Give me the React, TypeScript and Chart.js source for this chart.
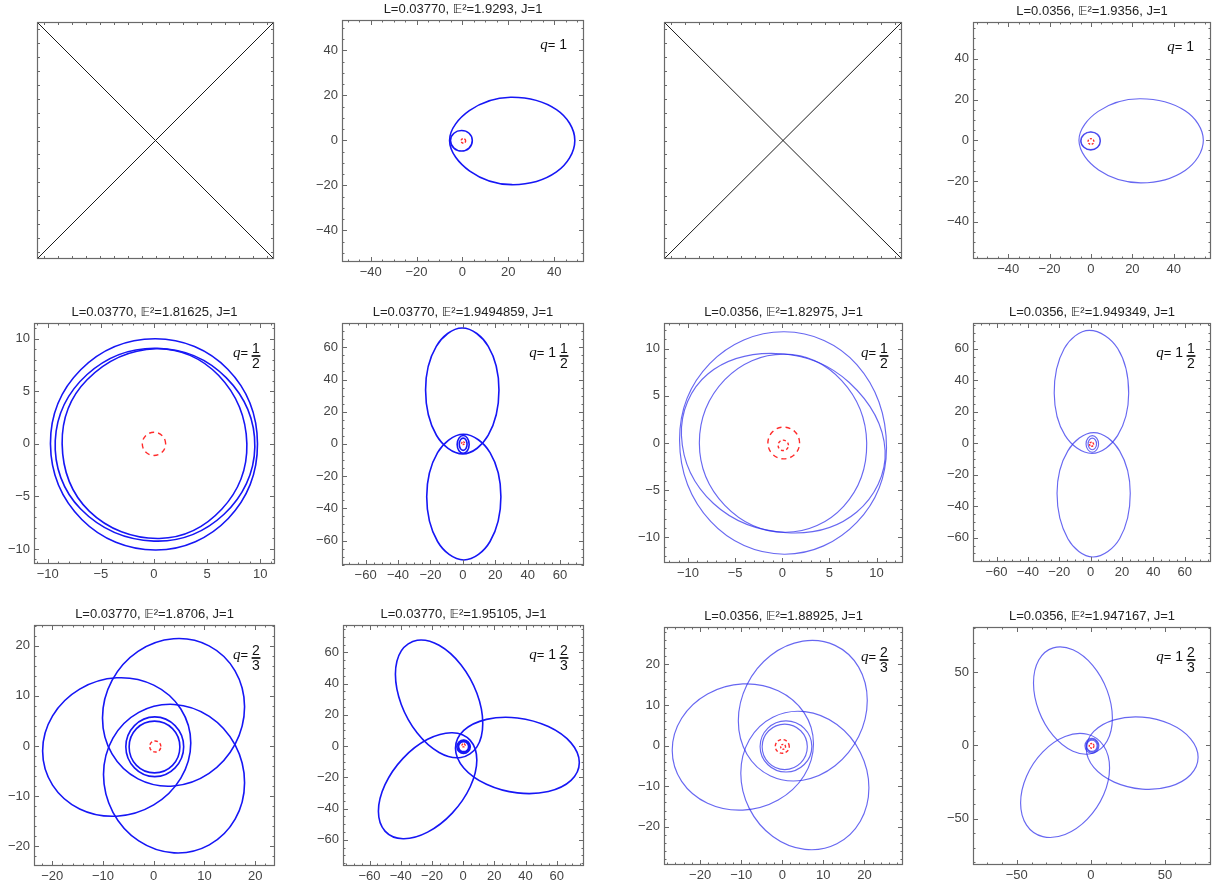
import React, { useEffect, useRef } from 'react';
import { Chart, registerables } from 'chart.js';
Chart.register(...registerables);

type Pt = [number, number];

// ---------------- titles / labels ----------------
const TITLE_2 = 'L=0.03770, 𝔼²=1.9293, J=1';
const TITLE_4 = 'L=0.0356, 𝔼²=1.9356, J=1';
const TITLE_5 = 'L=0.03770, 𝔼²=1.81625, J=1';
const TITLE_6 = 'L=0.03770, 𝔼²=1.9494859, J=1';
const TITLE_7 = 'L=0.0356, 𝔼²=1.82975, J=1';
const TITLE_8 = 'L=0.0356, 𝔼²=1.949349, J=1';
const TITLE_9 = 'L=0.03770, 𝔼²=1.8706, J=1';
const TITLE_10 = 'L=0.03770, 𝔼²=1.95105, J=1';
const TITLE_11 = 'L=0.0356, 𝔼²=1.88925, J=1';
const TITLE_12 = 'L=0.0356, 𝔼²=1.947167, J=1';

type Q = { whole?: string; num?: string; den?: string };
const Q_ONE: Q = { whole: '1' };
const Q_HALF: Q = { num: '1', den: '2' };
const Q_ONE_HALF: Q = { whole: '1', num: '1', den: '2' };
const Q_TWO_THIRDS: Q = { num: '2', den: '3' };
const Q_ONE_TWO_THIRDS: Q = { whole: '1', num: '2', den: '3' };

// ---------------- tick labels ----------------
const TICKS_40 = [-40, -20, 0, 20, 40];
const TICKS_10 = [-10, -5, 0, 5, 10];
const TICKS_60 = [-60, -40, -20, 0, 20, 40, 60];
const TICKS_20 = [-20, -10, 0, 10, 20];
const TICKS_50 = [-50, 0, 50];

// ---------------- placeholder crosses ----------------
const CROSS_A: Pt[] = [[0, 0], [1, 1]];
const CROSS_B: Pt[] = [[0, 1], [1, 0]];

// ---------------- panel 2 (q=1, L=0.03770) ----------------
const O2_BIG: Pt[] = [[49, 0], [41, 13.7], [21, 19.2], [3, 13.2], [-5.6, 0], [3.2, -13.6], [21.5, -19.65], [41, -14]];
const O2_SMALL: Pt[] = [[4.3, 0], [2.9, 3.2], [-0.4, 4.4], [-3.7, 3.2], [-5.2, 0], [-3.7, -3.4], [-0.4, -4.7], [2.9, -3.4]];
const H2: Pt[] = [[1.4, -0.2], [1.1, 0.5], [0.4, 0.8], [-0.3, 0.5], [-0.6, -0.2], [-0.3, -0.9], [0.4, -1.2], [1.1, -0.9]];

// ---------------- panel 4 (q=1, L=0.0356) ----------------
const O4_BIG: Pt[] = [[54.3, 0], [45.5, 14.5], [23.5, 20.4], [3.5, 14.2], [-5.8, 0], [3.7, -14.6], [24, -20.9], [45.5, -14.8]];
const O4_SMALL: Pt[] = [[4.6, -0.3], [3.2, 3], [-0.1, 4.2], [-3.4, 3], [-5, -0.3], [-3.4, -3.5], [-0.1, -4.8], [3.2, -3.5]];
const O4_SMALL2: Pt[] = [[4.4, -0.3], [3.1, 2.8], [-0.1, 4.0], [-3.3, 2.8], [-4.8, -0.3], [-3.3, -3.4], [-0.1, -4.6], [3.1, -3.4]];
const H4: Pt[] = [[1.4, -0.6], [1, 0.4], [0, 0.8], [-1, 0.4], [-1.4, -0.6], [-1, -1.6], [0, -2], [1, -1.6]];

// ---------------- panel 5 (q=1/2, L=0.03770) ----------------
const O5_A: Pt[] = [[9.75, 0], [6.95, 7.1], [0.1, 10.0], [-6.9, 7.05], [-9.75, 0], [-6.8, -7.2], [0.2, -10.1], [7.0, -7.1]];
const O5_B: Pt[] = [[9.5, -0.3], [6.8, 6.3], [0.3, 9.1], [-6.3, 6.6], [-9.3, 0.3], [-6.9, -6.2], [0, -9.25], [6.6, -6.7]];
const O5_C: Pt[] = [[8.75, 0], [6.1, 6.5], [0.2, 9.05], [-6.3, 6.1], [-8.65, 0], [-6.1, -6.4], [0.5, -9.0], [6.4, -6.2]];
const H5: Pt[] = [[1.1, 0], [0.78, 0.78], [0, 1.1], [-0.78, 0.78], [-1.1, 0], [-0.78, -0.78], [0, -1.1], [0.78, -0.78]];

// ---------------- panel 6 (q=1 1/2, L=0.03770) ----------------
const O6_UP: Pt[] = [[-0.4, 72], [15.7, 60.6], [22.3, 33.5], [15.7, 5.4], [0, -6.2], [-16.3, 5.4], [-23, 33.5], [-16.4, 60.6]];
const O6_LOW: Pt[] = [[0.4, 6], [16.8, -5.4], [23.5, -32.8], [16.8, -60.6], [0.6, -72.1], [-15.6, -60.6], [-22.3, -32.8], [-15.6, -5.4]];
const O6_S1: Pt[] = [[3.9, -0.3], [2.8, 3.6], [0.2, 5.2], [-2.4, 3.6], [-3.5, -0.3], [-2.4, -4.2], [0.2, -5.8], [2.8, -4.2]];
const O6_S2: Pt[] = [[2.6, -0.2], [1.9, 2.5], [0.2, 3.6], [-1.5, 2.5], [-2.2, -0.2], [-1.5, -2.9], [0.2, -4.0], [1.9, -2.9]];
const H6: Pt[] = [[1.1, 0.5], [0.8, 1.1], [0.2, 1.4], [-0.4, 1.1], [-0.7, 0.5], [-0.4, -0.1], [0.2, -0.4], [0.8, -0.1]];

// ---------------- panel 7 (q=1/2, L=0.0356) ----------------
const O7_A: Pt[] = [[11.05, -0.5], [7.9, 8.3], [0.2, 11.77], [-7.7, 8.4], [-10.9, 0.3], [-7.6, -8.3], [0.2, -11.77], [7.9, -8.4]];
const O7_B: Pt[] = [[10.9, -0.8], [7.1, 6.4], [-0.2, 9.45], [-7.9, 7.3], [-10.7, 0.8], [-7.3, -6.4], [0.5, -9.5], [7.9, -7.3]];
const O7_C: Pt[] = [[8.95, 0], [6.3, 6.6], [0.2, 9.4], [-6.1, 6.7], [-8.8, 0], [-6.1, -6.6], [0.3, -9.45], [6.5, -6.7]];
const H7_OUT: Pt[] = [[1.83, 0], [1.34, 1.19], [0.15, 1.68], [-1.04, 1.19], [-1.53, 0], [-1.04, -1.19], [0.15, -1.68], [1.34, -1.19]];
const H7_IN: Pt[] = [[0.65, -0.25], [0.49, 0.14], [0.1, 0.3], [-0.29, 0.14], [-0.45, -0.25], [-0.29, -0.64], [0.1, -0.8], [0.49, -0.64]];

// ---------------- panel 8 (q=1 1/2, L=0.0356) ----------------
const O8_UP: Pt[] = [[-0.8, 71.7], [17.3, 60.2], [24.3, 31.8], [17.3, 5.0], [0.8, -6.4], [-16.3, 5.0], [-23.2, 31.8], [-16.8, 60.2]];
const O8_LOW: Pt[] = [[2, 6.8], [18.5, -4.8], [25.3, -31.8], [18.5, -60.6], [1.5, -72.2], [-14.5, -60.6], [-21.4, -31.8], [-14.5, -4.8]];
const O8_S1: Pt[] = [[5.1, -0.4], [3.9, 3.3], [1.1, 4.9], [-1.7, 3.3], [-2.9, -0.4], [-1.7, -4.1], [1.1, -5.7], [3.9, -4.1]];
const O8_S2: Pt[] = [[3.8, -0.4], [3, 2.2], [1.1, 3.3], [-0.8, 2.2], [-1.6, -0.4], [-0.8, -3], [1.1, -4.1], [3, -3]];
const H8: Pt[] = [[1.9, -0.6], [1.5, 0.3], [0.6, 0.7], [-0.3, 0.3], [-0.7, -0.6], [-0.3, -1.5], [0.6, -1.9], [1.5, -1.5]];

// ---------------- panel 9 (q=2/3, L=0.03770) ----------------
const O9_E1: Pt[] = [[7.3, 0.6], [5.34, 7.38], [0, 12.13], [-7.3, 13.58], [-14.6, 11.33], [-19.94, 6.0], [-21.9, -1.0], [-19.94, -7.78], [-14.6, -12.53], [-7.3, -13.98], [0, -11.73], [5.34, -6.4]];
const O9_E2: Pt[] = [[17.9, 7.8], [16.02, 14.98], [10.9, 19.95], [3.9, 21.36], [-3.1, 18.85], [-8.22, 13.08], [-10.1, 5.6], [-8.22, -1.58], [-3.1, -6.55], [3.9, -7.96], [10.9, -5.45], [16.02, 0.32]];
const O9_E3: Pt[] = [[17.9, -7.3], [16.04, 0.2], [10.95, 5.9], [4.0, 8.28], [-2.95, 6.7], [-8.04, 1.58], [-9.9, -5.7], [-8.04, -13.2], [-2.95, -18.9], [4.0, -21.28], [10.95, -19.7], [16.04, -14.58]];
const O9_C1: Pt[] = [[5.9, -0.15], [4.2, 4.05], [0.2, 5.8], [-3.8, 4.05], [-5.5, -0.15], [-3.8, -4.35], [0.2, -6.1], [4.2, -4.35]];
const O9_C2: Pt[] = [[5.15, -0.2], [3.7, 3.45], [0.15, 4.95], [-3.4, 3.45], [-4.85, -0.2], [-3.4, -3.85], [0.15, -5.35], [3.7, -3.85]];
const H9: Pt[] = [[1.4, -0.1], [1.08, 0.68], [0.3, 1.0], [-0.48, 0.68], [-0.8, -0.1], [-0.48, -0.88], [0.3, -1.2], [1.08, -0.88]];

// ---------------- panel 10 (q=1 2/3, L=0.03770) ----------------
const O10_TOP: Pt[] = [[12.6, 14.5], [8.85, 33.75], [-1.4, 52.05], [-15.4, 64.5], [-29.4, 67.75], [-39.65, 60.95], [-43.4, 45.9], [-39.65, 26.65], [-29.4, 8.35], [-15.4, -4.1], [-1.4, -7.35], [8.85, -0.55]];
const O10_RIGHT: Pt[] = [[74.5, -10.6], [69.2, 2.02], [54.65, 12.48], [34.8, 18], [14.95, 17.08], [0.42, 9.98], [-4.9, -1.4], [0.42, -14.02], [14.95, -24.48], [34.8, -30], [54.65, -29.08], [69.2, -21.98]];
const O10_BOTTOM: Pt[] = [[8.8, -9.0], [4.57, 3.65], [-6.98, 8.52], [-22.75, 4.3], [-38.53, -7.88], [-50.07, -24.75], [-54.3, -41.8], [-50.07, -54.45], [-38.53, -59.32], [-22.75, -55.1], [-6.98, -42.92], [4.57, -26.05]];
const O10_C1: Pt[] = [[4.6, -0.4], [3.3, 2.6], [0.3, 3.9], [-2.7, 2.6], [-4, -0.4], [-2.7, -3.4], [0.3, -4.7], [3.3, -3.4]];
const O10_C2: Pt[] = [[3.5, -0.4], [2.6, 1.9], [0.3, 2.8], [-2, 1.9], [-2.9, -0.4], [-2, -2.7], [0.3, -3.6], [2.6, -2.7]];
const O10_C3: Pt[] = [[4.1, -0.2], [3.0, 2.4], [0.5, 3.5], [-2.1, 2.4], [-3.2, -0.2], [-2.1, -2.9], [0.5, -4.0], [3.0, -2.9]];
const H10: Pt[] = [[1.3, 0.5], [1.0, 1.2], [0.3, 1.5], [-0.4, 1.2], [-0.7, 0.5], [-0.4, -0.2], [0.3, -0.5], [1.0, -0.2]];

// ---------------- panel 11 (q=2/3, L=0.0356) ----------------
const O11_E1: Pt[] = [[7.6, 0.45], [5.3, 8.11], [-1.0, 13.5], [-9.6, 15.18], [-18.2, 12.7], [-24.5, 6.73], [-26.8, -1.15], [-24.5, -8.81], [-18.2, -14.2], [-9.6, -15.88], [-1.0, -13.4], [5.3, -7.43]];
const O11_E2: Pt[] = [[20.7, 11.1], [18.6, 19.33], [12.85, 24.68], [5.0, 25.72], [-2.85, 22.18], [-8.6, 14.99], [-10.7, 6.1], [-8.6, -2.13], [-2.85, -7.48], [5.0, -8.52], [12.85, -4.98], [18.6, 2.21]];
const O11_E3: Pt[] = [[21.1, -10.4], [19.01, -1.68], [13.3, 5.18], [5.5, 8.35], [-2.3, 6.98], [-8.01, 1.44], [-10.1, -6.8], [-8.01, -15.52], [-2.3, -22.38], [5.5, -25.55], [13.3, -24.18], [19.01, -18.64]];
const O11_C1: Pt[] = [[7.2, -0.2], [5.35, 4.25], [0.9, 6.1], [-3.55, 4.25], [-5.4, -0.2], [-3.55, -4.65], [0.9, -6.5], [5.35, -4.65]];
const O11_C2: Pt[] = [[6.1, -0.3], [4.5, 3.65], [0.6, 5.3], [-3.3, 3.65], [-4.9, -0.3], [-3.3, -4.25], [0.6, -5.9], [4.5, -4.25]];
const H11_OUT: Pt[] = [[1.7, -0.2], [1.2, 1.0], [0, 1.5], [-1.2, 1.0], [-1.7, -0.2], [-1.2, -1.4], [0, -1.9], [1.2, -1.4]];
const H11_IN: Pt[] = [[0.8, -0.3], [0.62, 0.12], [0.2, 0.3], [-0.22, 0.12], [-0.4, -0.3], [-0.22, -0.72], [0.2, -0.9], [0.62, -0.72]];

// ---------------- panel 12 (q=1 2/3, L=0.0356) ----------------
const O12_TOP: Pt[] = [[14.5, 18.7], [10.94, 37.66], [1.2, 54.75], [-12.1, 65.4], [-25.4, 66.75], [-35.14, 58.44], [-38.7, 42.7], [-35.14, 23.74], [-25.4, 6.65], [-12.1, -4.0], [1.2, -5.35], [10.94, 2.96]];
const O12_RIGHT: Pt[] = [[72.3, -8.15], [67.25, 4.54], [53.45, 14.6], [34.6, 19.35], [15.75, 17.5], [1.95, 9.56], [-3.1, -2.35], [1.95, -15.04], [15.75, -25.1], [34.6, -29.85], [53.45, -28.0], [67.25, -20.06]];
const O12_BOTTOM: Pt[] = [[12.6, -15.4], [8.58, -0.26], [-2.4, 7.61], [-17.4, 6.1], [-32.4, -4.39], [-43.38, -21.04], [-47.4, -39.4], [-43.38, -54.54], [-32.4, -62.41], [-17.4, -60.9], [-2.4, -50.41], [8.58, -33.76]];
const O12_C1: Pt[] = [[5.4, -0.3], [4, 3.3], [0.7, 4.8], [-2.6, 3.3], [-4, -0.3], [-2.6, -3.9], [0.7, -5.4], [4, -3.9]];
const O12_C2: Pt[] = [[4.2, -0.3], [3.2, 2.4], [0.7, 3.5], [-1.8, 2.4], [-2.8, -0.3], [-1.8, -3], [0.7, -4.1], [3.2, -3]];
const O12_C3: Pt[] = [[4.8, -0.1], [3.6, 2.9], [0.9, 4.2], [-2.0, 2.9], [-3.3, -0.1], [-2.0, -3.4], [0.9, -4.7], [3.6, -3.4]];
const H12: Pt[] = [[2.1, -0.3], [1.6, 0.8], [0.5, 1.3], [-0.6, 0.8], [-1.1, -0.3], [-0.6, -1.4], [0.5, -1.9], [1.6, -1.4]];

// ---------------- panel definitions ----------------
interface Loop { pts: Pt[]; red?: boolean; dash?: number[] }
interface Panel {
  frame: [number, number, number, number];
  x: [number, number];
  y: [number, number];
  xTicks: number[];
  yTicks: number[];
  major: number;
  minor: number;
  title: string;
  q?: Q;
  light?: boolean;
  empty?: boolean;
  loops: Loop[];
}

const o = (pts: Pt[]): Loop => ({ pts });
const h = (pts: Pt[], dash: number[]): Loop => ({ pts, red: true, dash });

const PANELS: Panel[] = [
  { frame: [37, 22, 274, 259], x: [0, 1], y: [0, 1], xTicks: [], yTicks: [], major: 1, minor: 1, title: '', empty: true, loops: [] },
  { frame: [342, 20, 584, 262], x: [-52.5, 53], y: [-54, 53.5], xTicks: TICKS_40, yTicks: TICKS_40, major: 20, minor: 5, title: TITLE_2, q: Q_ONE,
    loops: [o(O2_BIG), o(O2_SMALL), h(H2, [2.5, 1.5])] },
  { frame: [664, 22, 902, 259], x: [0, 1], y: [0, 1], xTicks: [], yTicks: [], major: 1, minor: 1, title: '', empty: true, loops: [] },
  { frame: [973, 22, 1211, 259], x: [-57, 58], y: [-58.3, 58.1], xTicks: TICKS_40, yTicks: TICKS_40, major: 20, minor: 5, title: TITLE_4, q: Q_ONE, light: true,
    loops: [o(O4_BIG), o(O4_SMALL), o(O4_SMALL2), h(H4, [2, 1.5])] },

  { frame: [34, 323, 275, 564], x: [-11.3, 11.4], y: [-11.43, 11.5], xTicks: TICKS_10, yTicks: TICKS_10, major: 5, minor: 1, title: TITLE_5, q: Q_HALF,
    loops: [o(O5_A), o(O5_B), o(O5_C), h(H5, [5, 4])] },
  { frame: [342, 323, 584, 565], x: [-74.6, 74.8], y: [-75.2, 75.1], xTicks: TICKS_60, yTicks: TICKS_60, major: 20, minor: 5, title: TITLE_6, q: Q_ONE_HALF,
    loops: [o(O6_UP), o(O6_LOW), o(O6_S1), o(O6_S2), h(H6, [2, 1])] },
  { frame: [664, 323, 903, 563], x: [-12.55, 12.8], y: [-12.7, 12.7], xTicks: TICKS_10, yTicks: TICKS_10, major: 5, minor: 1, title: TITLE_7, q: Q_HALF, light: true,
    loops: [o(O7_A), o(O7_B), o(O7_C), h(H7_OUT, [5, 4]), h(H7_IN, [3, 2.5])] },
  { frame: [973, 323, 1211, 562], x: [-75, 76.8], y: [-75.4, 76.4], xTicks: TICKS_60, yTicks: TICKS_60, major: 20, minor: 5, title: TITLE_8, q: Q_ONE_HALF, light: true,
    loops: [o(O8_UP), o(O8_LOW), o(O8_S1), o(O8_S2), h(H8, [2, 1])] },

  { frame: [34, 625, 275, 866], x: [-23.6, 23.9], y: [-23.9, 24.1], xTicks: TICKS_20, yTicks: TICKS_20, major: 10, minor: 2, title: TITLE_9, q: Q_TWO_THIRDS,
    loops: [o(O9_E1), o(O9_E2), o(O9_E3), o(O9_C1), o(O9_C2), h(H9, [3.5, 2.5])] },
  { frame: [343, 625, 584, 866], x: [-77, 77.5], y: [-76.8, 77.5], xTicks: TICKS_60, yTicks: TICKS_60, major: 20, minor: 5, title: TITLE_10, q: Q_ONE_TWO_THIRDS,
    loops: [o(O10_TOP), o(O10_RIGHT), o(O10_BOTTOM), o(O10_C1), o(O10_C2), o(O10_C3), h(H10, [2, 1])] },
  { frame: [664, 627, 903, 865], x: [-28.8, 29.4], y: [-29.4, 29.2], xTicks: TICKS_20, yTicks: TICKS_20, major: 10, minor: 2, title: TITLE_11, q: Q_TWO_THIRDS, light: true,
    loops: [o(O11_E1), o(O11_E2), o(O11_E3), o(O11_C1), o(O11_C2), h(H11_OUT, [3.5, 2.5]), h(H11_IN, [2, 1.5])] },
  { frame: [973, 627, 1211, 865], x: [-79.5, 81], y: [-81.8, 81], xTicks: TICKS_50, yTicks: TICKS_50, major: 50, minor: 10, title: TITLE_12, q: Q_ONE_TWO_THIRDS, light: true,
    loops: [o(O12_TOP), o(O12_RIGHT), o(O12_BOTTOM), o(O12_C1), o(O12_C2), o(O12_C3), h(H12, [2, 1])] },
];

// ---------------- layout constants ----------------
const PAD_TOP = 26;
const PAD_RIGHT = 5;
const Y_AXIS_W = 50;
const X_AXIS_H = 22;

const SANS = '"Liberation Sans", Arial, "DejaVu Sans", sans-serif';
const SERIF = '"Liberation Serif", "Times New Roman", serif';
const DARK = 'rgb(22,22,245)';
const LIGHT = 'rgba(45,45,235,0.72)';
const RED = '#ff2b2b';
const FRAME = '#6a6a6a';

const fmt = (v: number) => (v < 0 ? '\u2212' + Math.abs(v) : String(v));

function closedData(pts: Pt[]) {
  const n = pts.length;
  const seq = [pts[n - 1], ...pts, pts[0], pts[1]];
  return seq.map(([x, y]) => ({ x, y }));
}

function makeDatasets(p: Panel): any[] {
  if (p.empty) {
    return [CROSS_A, CROSS_B].map((pts) => ({
      data: pts.map(([x, y]) => ({ x, y })),
      showLine: true, borderColor: '#1a1a1a', borderWidth: 1, pointRadius: 0, pointHoverRadius: 0, tension: 0,
    }));
  }
  return p.loops.map((l) => {
    const data = closedData(l.pts);
    const last = data.length - 1;
    return {
      data,
      showLine: true,
      pointRadius: 0,
      pointHoverRadius: 0,
      tension: l.pts.length >= 12 ? 0.35 : 0.38,
      borderColor: l.red ? RED : p.light ? LIGHT : DARK,
      borderWidth: l.red ? 1.4 : p.light ? 1.15 : 1.6,
      borderDash: l.red ? l.dash : [],
      segment: {
        borderColor: (c: any) => (c.p0DataIndex === 0 || c.p1DataIndex === last ? 'rgba(0,0,0,0)' : undefined),
      },
    };
  });
}

function drawQ(ctx: CanvasRenderingContext2D, a: any, q: Q) {
  const fSerif = 'italic 15px ' + SERIF;
  const f13 = '13px ' + SANS;
  const f14 = '14px ' + SANS;
  ctx.fillStyle = '#111';
  ctx.textAlign = 'left';
  ctx.textBaseline = 'alphabetic';
  if (!q.num) {
    const base = a.top + 29;
    ctx.font = f14; const w1 = ctx.measureText(' ' + q.whole).width;
    ctx.font = f13; const we = ctx.measureText('=').width;
    ctx.font = fSerif; const wq = ctx.measureText('q').width;
    let x = a.right - 17 - (w1 + we + wq);
    ctx.font = fSerif; ctx.fillText('q', x, base); x += wq;
    ctx.font = f13; ctx.fillText('=', x, base); x += we;
    ctx.font = f14; ctx.fillText(' ' + q.whole, x, base);
    return;
  }
  const barY = a.top + 33;
  const fx = a.right - (q.whole ? 20 : 19);
  ctx.font = f14;
  const wd = Math.max(ctx.measureText(q.num!).width, ctx.measureText(q.den!).width);
  ctx.textAlign = 'center';
  ctx.fillText(q.num!, fx, barY - 3);
  ctx.fillText(q.den!, fx, barY + 11.5);
  ctx.strokeStyle = '#111';
  ctx.lineWidth = 1.7;
  ctx.beginPath();
  ctx.moveTo(fx - wd / 2 - 0.5, barY);
  ctx.lineTo(fx + wd / 2 + 0.5, barY);
  ctx.stroke();
  ctx.textAlign = 'left';
  const base = barY + 0.5;
  const right = fx - wd / 2 - 4;
  let wWhole = 0;
  if (q.whole) { ctx.font = f14; wWhole = ctx.measureText(' ' + q.whole).width; }
  ctx.font = f13; const we = ctx.measureText('=').width;
  ctx.font = fSerif; const wq = ctx.measureText('q').width;
  let x = right - wWhole - we - wq;
  ctx.font = fSerif; ctx.fillText('q', x, base); x += wq;
  ctx.font = f13; ctx.fillText('=', x, base); x += we;
  if (q.whole) { ctx.font = f14; ctx.fillText(' ' + q.whole, x, base); }
}

function framePlugin(p: Panel) {
  return {
    id: 'mmaFrame',
    afterDraw(chart: any) {
      const { ctx, chartArea: a, scales } = chart;
      const sx = scales.x, sy = scales.y;
      ctx.save();
      ctx.strokeStyle = FRAME;
      ctx.lineWidth = 1;
      ctx.beginPath();
      const tick = (x1: number, y1: number, x2: number, y2: number) => { ctx.moveTo(x1, y1); ctx.lineTo(x2, y2); };
      if (p.empty) {
        for (let k = 0; k < 17; k++) {
          const f = (k + 0.5) / 17;
          const px = Math.round(sx.getPixelForValue(f)) + 0.5;
          const py = Math.round(sy.getPixelForValue(f)) + 0.5;
          tick(px, a.bottom, px, a.bottom - 3); tick(px, a.top, px, a.top + 3);
          tick(a.left, py, a.left + 3, py); tick(a.right, py, a.right - 3, py);
        }
      } else {
        const mk = (min: number, max: number, cb: (v: number, len: number) => void) => {
          const start = Math.ceil(min / p.minor - 1e-9);
          const end = Math.floor(max / p.minor + 1e-9);
          for (let k = start; k <= end; k++) {
            const v = k * p.minor;
            const r = v / p.major;
            const isMajor = Math.abs(r - Math.round(r)) < 1e-6;
            cb(v, isMajor ? 5 : 2.5);
          }
        };
        mk(p.x[0], p.x[1], (v, len) => {
          const px = Math.round(sx.getPixelForValue(v)) + 0.5;
          tick(px, a.bottom, px, a.bottom - len); tick(px, a.top, px, a.top + len);
        });
        mk(p.y[0], p.y[1], (v, len) => {
          const py = Math.round(sy.getPixelForValue(v)) + 0.5;
          tick(a.left, py, a.left + len, py); tick(a.right, py, a.right - len, py);
        });
      }
      ctx.stroke();
      ctx.strokeStyle = FRAME;
      ctx.lineWidth = 1.2;
      ctx.strokeRect(a.left + 0.5, a.top + 0.5, a.right - a.left - 1, a.bottom - a.top - 1);
      if (p.title) {
        ctx.fillStyle = '#222';
        ctx.font = '13px ' + SANS;
        ctx.textAlign = 'center';
        ctx.textBaseline = 'middle';
        ctx.fillText(p.title, (a.left + a.right) / 2, a.top - 11);
      }
      if (p.q) drawQ(ctx, a, p.q);
      ctx.restore();
    },
  };
}

function axis(range: [number, number], ticks: number[], horizontal: boolean) {
  return {
    type: 'linear',
    min: range[0],
    max: range[1],
    bounds: 'data',
    grid: { display: false, drawTicks: false },
    border: { display: false },
    ticks: {
      font: { family: SANS, size: 13 },
      color: '#444',
      padding: horizontal ? 3 : 4,
      maxRotation: 0,
      autoSkip: false,
      callback: (v: any) => (ticks.length ? fmt(Number(v)) : ''),
    },
    afterBuildTicks: (s: any) => {
      const list = ticks.length ? ticks : [0.5];
      s.ticks = list.map((v) => ({ value: v }));
    },
    afterFit: (s: any) => {
      if (horizontal) s.height = X_AXIS_H; else s.width = Y_AXIS_W;
      s.paddingLeft = 0; s.paddingRight = 0; s.paddingTop = 0; s.paddingBottom = 0;
    },
  };
}

function PanelChart({ p }: { p: Panel }) {
  const ref = useRef<HTMLCanvasElement>(null);
  const [l, t, r, b] = p.frame;
  const width = r - l + Y_AXIS_W + PAD_RIGHT;
  const height = b - t + PAD_TOP + X_AXIS_H;
  useEffect(() => {
    if (!ref.current) return;
    const chart = new Chart(ref.current, {
      type: 'scatter',
      data: { datasets: makeDatasets(p) },
      options: {
        responsive: false,
        animation: false,
        events: [],
        layout: { padding: { top: PAD_TOP, right: PAD_RIGHT, left: 0, bottom: 0 } },
        plugins: { legend: { display: false }, tooltip: { enabled: false }, title: { display: false } },
        scales: { x: axis(p.x, p.xTicks, true), y: axis(p.y, p.yTicks, false) },
      } as any,
      plugins: [framePlugin(p)],
    } as any);
    return () => chart.destroy();
  }, [p]);
  return (
    <canvas
      ref={ref}
      width={width}
      height={height}
      style={{ position: 'absolute', left: l - Y_AXIS_W, top: t - PAD_TOP, width, height }}
    />
  );
}

export default function App() {
  return (
    <div style={{ position: 'fixed', left: 0, top: 0, width: 1219, height: 890, overflow: 'hidden', background: '#fff' }}>
      {PANELS.map((p, i) => (
        <PanelChart key={i} p={p} />
      ))}
    </div>
  );
}
